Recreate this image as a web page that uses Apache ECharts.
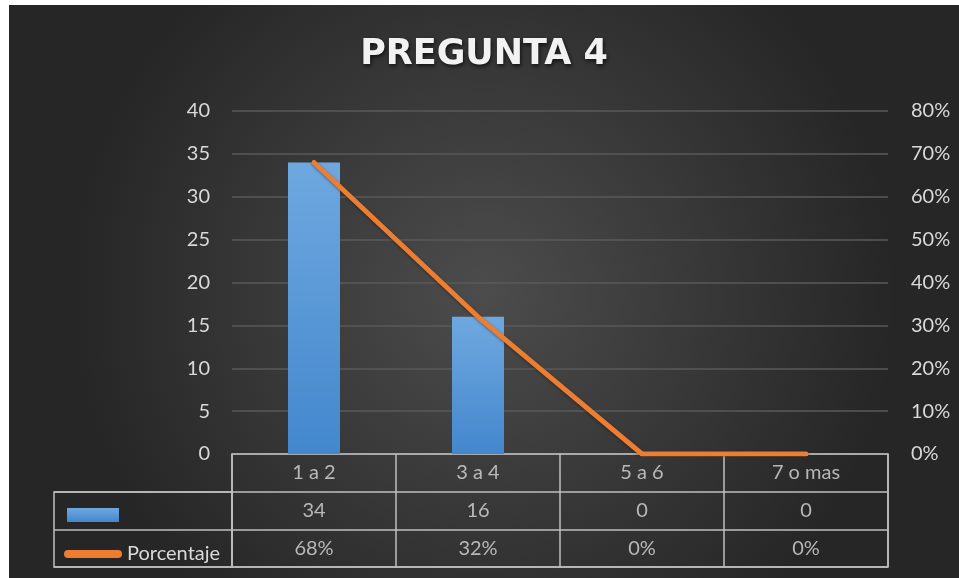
<!DOCTYPE html>
<html>
<head>
<meta charset="utf-8">
<script src="https://cdn.jsdelivr.net/npm/echarts@6/dist/echarts.min.js"></script>
<style>
  html, body { margin: 0; padding: 0; background: #ffffff; }
  #chart { position: absolute; left: 9px; top: 5px; width: 950px; height: 573px; }
</style>
</head>
<body>
<div id="chart"></div>
<script>
  // datos
  var categorias = ['1 a 2', '3 a 4', '5 a 6', '7 o mas'];
  var cantidad = [34, 16, 0, 0];
  var porcentaje = [0.68, 0.32, 0, 0];
  var filasTabla = ['cab', 'cant', 'pct'];

  var textColor = '#d9d9d9';
  var fontFam = 'Lato, "Open Sans", sans-serif';

  // celdas de la tabla (cabecera, cantidad, porcentaje)
  var celdas = [];
  for (var i = 0; i < categorias.length; i++) {
    celdas.push([i, 0, categorias[i]]);
    celdas.push([i, 1, String(cantidad[i])]);
    celdas.push([i, 2, Math.round(porcentaje[i] * 100) + '%']);
  }

  var myChart = echarts.init(document.getElementById('chart'));
  var option = {
    backgroundColor: {
      type: 'radial', x: 0.5, y: 0.5, r: 0.72,
      colorStops: [{ offset: 0, color: '#4c4c4c' }, { offset: 1, color: '#262626' }]
    },
    title: {
      text: 'PREGUNTA 4',
      left: 'center',
      top: 27,
      padding: [5, 0, 5, 10],
      textStyle: {
        color: '#f2f2f2', fontSize: 35, fontWeight: 'bold', fontFamily: '"DejaVu Sans", sans-serif',
        textShadowColor: 'rgba(0,0,0,0.7)', textShadowBlur: 4, textShadowOffsetX: 1, textShadowOffsetY: 2
      }
    },
    legend: [{
      data: ['Cantidad'],
      left: 53, top: 498,
      itemWidth: 52, itemHeight: 14,
      icon: 'rect',
      formatter: function () { return ''; },
      textStyle: { fontSize: 1 },
      selectedMode: false
    }, {
      data: ['Porcentaje'],
      left: 50, top: 532,
      itemWidth: 58, itemHeight: 8,
      icon: 'path://M4,0 H54 A4,4 0 0 1 54,8 H4 A4,4 0 0 1 4,0 Z',
      textStyle: { color: textColor, fontSize: 20, fontFamily: fontFam, lineHeight: 24 },
      selectedMode: false
    }],
    grid: [
      { left: 223, right: 71, top: 106, bottom: 124 },
      { left: 223, right: 71, top: 449, height: 113, show: true, borderColor: '#bfbfbf', borderWidth: 1.5 },
      { left: 45, width: 178, top: 487, height: 75, show: true, borderColor: '#bfbfbf', borderWidth: 1.5 }
    ],
    xAxis: [
      {
        type: 'category', gridIndex: 0, data: categorias,
        axisLine: { show: false }, axisTick: { show: false }, axisLabel: { show: false }
      },
      {
        type: 'category', gridIndex: 1, data: categorias,
        axisLine: { show: false }, axisTick: { show: false }, axisLabel: { show: false },
        splitLine: { show: true, lineStyle: { color: '#bfbfbf', width: 1.5 } }
      },
      {
        type: 'value', gridIndex: 2, min: 0, max: 1, show: false
      }
    ],
    yAxis: [
      {
        type: 'value', gridIndex: 0, min: 0, max: 40, interval: 5,
        axisLine: { show: false }, axisTick: { show: false },
        axisLabel: { color: textColor, fontSize: 20, fontFamily: fontFam, margin: 22 },
        splitLine: { lineStyle: { color: '#5a5a5a', width: 1.5 } }
      },
      {
        type: 'value', gridIndex: 0, min: 0, max: 0.8, interval: 0.1, position: 'right',
        axisLine: { show: false }, axisTick: { show: false },
        axisLabel: {
          color: textColor, fontSize: 20, fontFamily: fontFam, margin: 23,
          formatter: function (v) { return Math.round(v * 100) + '%'; }
        },
        splitLine: { show: false }
      },
      {
        type: 'category', gridIndex: 1, data: filasTabla, inverse: true,
        axisLine: { show: false }, axisTick: { show: false }, axisLabel: { show: false },
        splitLine: { show: true, lineStyle: { color: '#bfbfbf', width: 1.5 } }
      },
      {
        type: 'category', gridIndex: 2, data: ['cant', 'pct'], inverse: true,
        axisLine: { show: false }, axisTick: { show: false }, axisLabel: { show: false },
        splitLine: { show: true, lineStyle: { color: '#bfbfbf', width: 1.5 } }
      }
    ],
    series: [
      {
        name: 'Cantidad',
        type: 'bar',
        xAxisIndex: 0, yAxisIndex: 0,
        data: cantidad,
        barWidth: 52,
        itemStyle: {
          color: {
            type: 'linear', x: 0, y: 0, x2: 0, y2: 1,
            colorStops: [{ offset: 0, color: '#6fa8e0' }, { offset: 1, color: '#4387cd' }]
          },
          shadowColor: 'rgba(0,0,0,0.4)', shadowBlur: 4, shadowOffsetY: 1
        }
      },
      {
        name: 'Porcentaje',
        type: 'line',
        xAxisIndex: 0, yAxisIndex: 1,
        data: porcentaje,
        symbol: 'none',
        itemStyle: { color: '#ed7d31' },
        lineStyle: {
          color: '#ed7d31', width: 5, cap: 'round', join: 'round',
          shadowColor: 'rgba(0,0,0,0.4)', shadowBlur: 3, shadowOffsetY: 1
        },
        z: 5
      },
      {
        name: 'tabla',
        type: 'scatter',
        xAxisIndex: 1, yAxisIndex: 2,
        data: celdas,
        symbolSize: 1,
        itemStyle: { color: 'rgba(0,0,0,0)' },
        label: {
          show: true, position: 'inside',
          color: textColor, fontSize: 20, fontFamily: fontFam,
          formatter: function (p) { return p.value[2]; }
        },
        silent: true
      }
    ]
  };
  myChart.setOption(option);
</script>
</body>
</html>
